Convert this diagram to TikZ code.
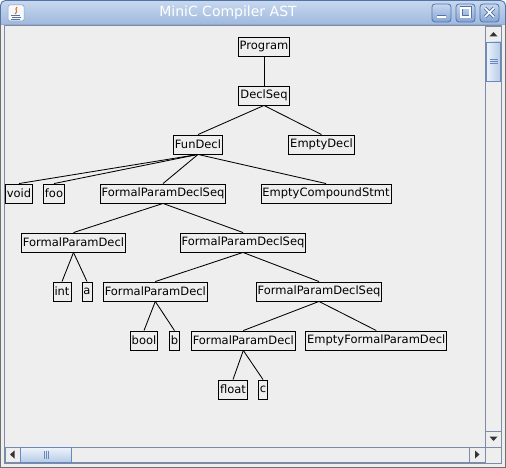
\documentclass[tikz,border=0pt]{standalone}
\usepackage{fontspec}
\newfontfamily\astfont{DejaVu Sans}
\definecolor{panelgray}{RGB}{238,238,238}
\definecolor{frameblue}{RGB}{82,114,168}
\definecolor{framegray}{RGB}{112,112,112}
\definecolor{titletop}{RGB}{200,217,238}
\definecolor{titlebot}{RGB}{132,164,212}
\definecolor{trackedge}{RGB}{124,140,168}
\definecolor{thumbedge}{RGB}{104,136,190}
\definecolor{thumbtop}{RGB}{238,243,250}
\definecolor{thumbbot}{RGB}{182,204,232}
\definecolor{javaorange}{RGB}{232,110,30}

\begin{document}
\begin{tikzpicture}[x=1pt,y=-1pt,
  astnode/.style={draw,line width=0.9pt,fill=panelgray,minimum height=19pt,inner xsep=1.5pt,inner ysep=0pt,font=\astfont\fontsize{11.5}{13}\selectfont},
  astedge/.style={line width=0.85pt},
  winbtn/.style={rounded corners=3pt,top color=titletop,bottom color=titlebot,draw=frameblue,line width=0.8pt},
  btnglyph/.style={white,line width=1.6pt},
  scrollbox/.style={fill=panelgray,draw=trackedge,line width=0.8pt},
  thumbbox/.style={draw=thumbedge,line width=0.8pt},
  grip/.style={thumbedge,line width=0.8pt}]
  \useasboundingbox (0,0) rectangle (506,468);
  % window frame
  \shade[top color=titletop,bottom color=titlebot,rounded corners=5pt] (0,0) rectangle (506,40);
  \fill[panelgray] (0,24) rectangle (506,468);
  \draw[frameblue,line width=0.8pt,rounded corners=5pt] (0.5,30) -- (0.5,0.5) -- (505.5,0.5) -- (505.5,30);
  \draw[framegray,line width=1pt] (0.5,24) -- (0.5,467.5) -- (505.5,467.5) -- (505.5,24);
  \draw[frameblue!60,line width=0.6pt] (1,24.3) -- (505,24.3);
  \node[white,font=\astfont\fontsize{14}{16}\selectfont] (title) at (228,12.5) {MiniC Compiler AST};
  % java icon
  \fill[white!85!titletop,rounded corners=2pt] (8,5) rectangle (24,21);
  \draw[frameblue!70,line width=0.5pt,rounded corners=2pt] (8,5) rectangle (24,21);
  \draw[javaorange,line width=1.1pt] (17,7) .. controls (14,10) and (19,11) .. (15,14);
  \draw[frameblue,line width=0.9pt] (11,15) -- (20,15) (12,17.5) -- (21,17.5) (11,19.5) -- (20,19.5);
  % title buttons
  \draw[winbtn] (432,4) rectangle (451,22);
  \draw[frameblue,line width=3pt] (437,17) -- (446,17);
  \draw[btnglyph] (437,17) -- (446,17);
  \draw[winbtn] (456,4) rectangle (475,22);
  \draw[frameblue,line width=3pt] (461,8) rectangle (470,17);
  \draw[btnglyph] (461,8) rectangle (470,17);
  \draw[winbtn] (480,4) rectangle (499,22);
  \draw[frameblue,line width=3.2pt] (485,8) -- (494,17) (494,8) -- (485,17);
  \draw[btnglyph] (485,8) -- (494,17) (494,8) -- (485,17);
  % content panel
  \draw[trackedge,line width=0.8pt] (4.5,25.5) rectangle (501.5,463.5);
  % vertical scrollbar
  \draw[scrollbox] (485.5,26) rectangle (501,447);
  \draw[scrollbox] (485.5,26) rectangle (501,42);
  \fill[black!80] (489.5,36.5) -- (497.5,36.5) -- (493.5,32) -- cycle;
  \shade[left color=thumbtop,right color=thumbbot] (486,42) rectangle (500.5,81);
  \draw[thumbbox] (486,42) rectangle (500.5,81);
  \draw[grip] (489.5,59.5) -- (497.5,59.5) (489.5,61.5) -- (497.5,61.5) (489.5,63.5) -- (497.5,63.5);
  \draw[scrollbox] (485.5,431) rectangle (501,447);
  \fill[black!80] (489.5,436.5) -- (497.5,436.5) -- (493.5,441) -- cycle;
  % horizontal scrollbar
  \draw[scrollbox] (5,447) rectangle (485.5,462.5);
  \draw[scrollbox] (5,447) rectangle (20.5,462.5);
  \fill[black!80] (14.5,450.5) -- (14.5,458.5) -- (10,454.5) -- cycle;
  \shade[top color=thumbtop,bottom color=thumbbot] (20.5,447.5) rectangle (71.5,462);
  \draw[thumbbox] (20.5,447.5) rectangle (71.5,462);
  \draw[grip] (44,450.5) -- (44,458.5) (46,450.5) -- (46,458.5) (48,450.5) -- (48,458.5);
  \draw[scrollbox] (469,447) rectangle (485.5,462.5);
  \fill[black!80] (475,450.5) -- (475,458.5) -- (479.5,454.5) -- cycle;
  \draw[scrollbox] (485.5,447) rectangle (501,463);
  % AST nodes
  \node[astnode] (program) at (264,46.5) {Program};
  \node[astnode] (declseq) at (264,95.5) {DeclSeq};
  \node[astnode] (fundecl) at (198,144.5) {FunDecl};
  \node[astnode] (emptydecl) at (321.5,144.5) {EmptyDecl};
  \node[astnode] (void) at (19,193.5) {void};
  \node[astnode] (foo) at (54,193.5) {foo};
  \node[astnode] (fpds1) at (163,193.5) {FormalParamDeclSeq};
  \node[astnode] (ecs) at (326,193.5) {EmptyCompoundStmt};
  \node[astnode] (fpd1) at (73.5,242.5) {FormalParamDecl};
  \node[astnode] (fpds2) at (243,242.5) {FormalParamDeclSeq};
  \node[astnode] (int) at (62,291.5) {int};
  \node[astnode] (a) at (87,291.5) {a};
  \node[astnode] (fpd2) at (155.3,291.5) {FormalParamDecl};
  \node[astnode] (fpds3) at (319,291.5) {FormalParamDeclSeq};
  \node[astnode] (bool) at (144,340.5) {bool};
  \node[astnode] (b) at (174.5,340.5) {b};
  \node[astnode] (fpd3) at (243.3,340.5) {FormalParamDecl};
  \node[astnode] (efpd) at (376.3,340.5) {EmptyFormalParamDecl};
  \node[astnode] (float) at (233,389.5) {float};
  \node[astnode] (c) at (263,389.5) {c};
  % AST edges
  \draw[astedge] (program.south) -- (declseq.north);
  \draw[astedge] (declseq.south) -- (fundecl.north);
  \draw[astedge] (declseq.south) -- (emptydecl.north);
  \draw[astedge] (fundecl.south) -- (void.north);
  \draw[astedge] (fundecl.south) -- (foo.north);
  \draw[astedge] (fundecl.south) -- (fpds1.north);
  \draw[astedge] (fundecl.south) -- (ecs.north);
  \draw[astedge] (fpds1.south) -- (fpd1.north);
  \draw[astedge] (fpds1.south) -- (fpds2.north);
  \draw[astedge] (fpd1.south) -- (int.north);
  \draw[astedge] (fpd1.south) -- (a.north);
  \draw[astedge] (fpds2.south) -- (fpd2.north);
  \draw[astedge] (fpds2.south) -- (fpds3.north);
  \draw[astedge] (fpd2.south) -- (bool.north);
  \draw[astedge] (fpd2.south) -- (b.north);
  \draw[astedge] (fpds3.south) -- (fpd3.north);
  \draw[astedge] (fpds3.south) -- (efpd.north);
  \draw[astedge] (fpd3.south) -- (float.north);
  \draw[astedge] (fpd3.south) -- (c.north);
\end{tikzpicture}
\end{document}
